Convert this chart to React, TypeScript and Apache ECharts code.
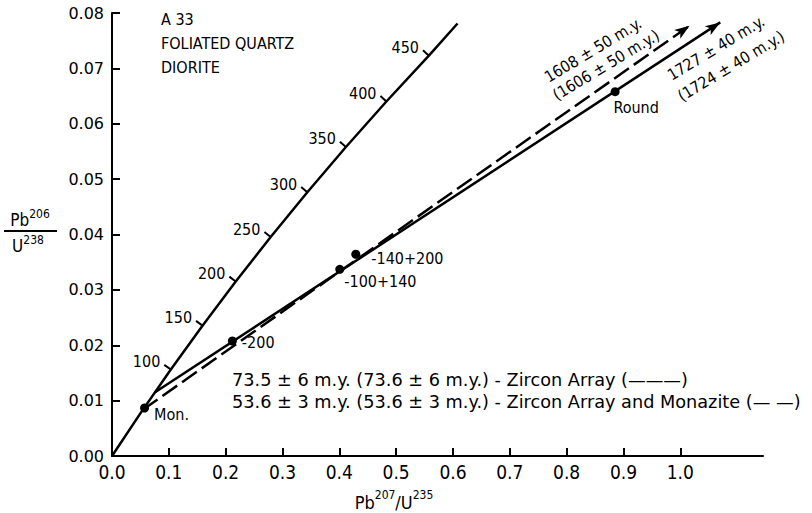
import React, { useEffect, useRef } from "react";
import * as echarts from "echarts";

// Concordia curve points (age in m.y., Pb207/U235, Pb206/U238)
const CONC_AGE = [0, 50, 100, 150, 200, 250, 300, 350, 400, 450, 485];
const CONC_X = [0, 0.0505, 0.1035, 0.1592, 0.2177, 0.2792, 0.3437, 0.4116, 0.4828, 0.5576, 0.608];
const CONC_Y = [0, 0.00779, 0.01563, 0.02354, 0.03151, 0.03954, 0.04764, 0.0558, 0.06402, 0.0723, 0.0781];
const TICK_AGES = [100, 150, 200, 250, 300, 350, 400, 450];

// Discordia lines (start at lower intercept, end at arrow tip)
const ZIRCON_X = [0.0751, 1.0703];
const ZIRCON_Y = [0.01147, 0.0783];
const MONAZ_X = [0.0542, 1.0162];
const MONAZ_Y = [0.00835, 0.0777];

// Sample points
const PT_NAMES = ["Mon.", "-200", "-100+140", "-140+200", "Round"];
const PT_X = [0.0573, 0.2118, 0.4008, 0.429, 0.8853];
const PT_Y = [0.00867, 0.02077, 0.03372, 0.03643, 0.0658];
const PT_OFFSETS = [[0, 7], [0, 2], [-5, 12], [6, 4], [21, -2]];
const PT_POS = ["right", "right", "right", "right", "bottom"];

const X_TICKS = [0, 0.1, 0.2, 0.3, 0.4, 0.5, 0.6, 0.7, 0.8, 0.9, 1.0];
const Y_TICKS = [0, 0.01, 0.02, 0.03, 0.04, 0.05, 0.06, 0.07, 0.08];

const TITLE_LINES = ["A 33", "FOLIATED QUARTZ", "DIORITE"];
const LEGEND_LINES = [
  "73.5 ± 6 m.y. (73.6 ± 6 m.y.) - Zircon Array (———)",
  "53.6 ± 3 m.y. (53.6 ± 3 m.y.) - Zircon Array and Monazite (— —)",
];
const AGE_LABELS = [
  { text: "1608 ± 50 m.y.", x: 593, y: 50 },
  { text: "(1606 ± 50 m.y.)", x: 606, y: 65 },
  { text: "1727 ± 40 m.y.", x: 716, y: 48 },
  { text: "(1724 ± 40 m.y.)", x: 731, y: 66 },
];

const FONT = "'DejaVu Sans Condensed', 'Liberation Sans Narrow', 'DejaVu Sans', sans-serif";
const WIDE = "'DejaVu Sans', 'Noto Sans', sans-serif";

export default function App() {
  const ref = useRef<HTMLDivElement>(null);
  useEffect(() => {
    const chart = echarts.init(ref.current!, undefined, { renderer: "svg" });
    const tickData = TICK_AGES.map((age) => {
      const k = CONC_AGE.indexOf(age);
      return [CONC_X[k], CONC_Y[k], age];
    });
    const option: any = {
      animation: false,
      backgroundColor: "#fff",
      grid: { left: 112, right: 49, top: 13, bottom: 57, containLabel: false },
      xAxis: {
        type: "value",
        min: 0,
        max: 1.1455,
        interval: 0.1,
        axisLine: { lineStyle: { color: "#000", width: 2 } },
        axisTick: { inside: true, length: 8, customValues: X_TICKS, lineStyle: { color: "#000", width: 2 } },
        axisLabel: {
          customValues: X_TICKS,
          formatter: (v: number) => v.toFixed(1),
          color: "#000",
          fontFamily: FONT,
          fontSize: 19,
          margin: 6,
        },
        splitLine: { show: false },
      },
      yAxis: {
        type: "value",
        min: 0,
        max: 0.08,
        interval: 0.01,
        axisLine: { show: true, lineStyle: { color: "#000", width: 2 } },
        axisTick: { show: true, inside: true, length: 8, customValues: Y_TICKS, lineStyle: { color: "#000", width: 2 } },
        axisLabel: {
          customValues: Y_TICKS,
          formatter: (v: number) => v.toFixed(2),
          color: "#000",
          fontFamily: WIDE,
          fontSize: 16,
          margin: 8,
        },
        splitLine: { show: false },
      },
      series: [
        {
          type: "line",
          name: "Concordia",
          data: CONC_X.map((x, i) => [x, CONC_Y[i]]),
          showSymbol: false,
          lineStyle: { color: "#000", width: 2.5 },
          z: 3,
        },
        {
          type: "custom",
          name: "Age ticks",
          data: tickData,
          encode: { x: 0, y: 1 },
          renderItem: (params: any, api: any) => {
            const age = api.value(2);
            const k = CONC_AGE.indexOf(age);
            const p = api.coord([CONC_X[k], CONC_Y[k]]);
            const a = api.coord([CONC_X[k - 1], CONC_Y[k - 1]]);
            const b = api.coord([CONC_X[k + 1], CONC_Y[k + 1]]);
            let tx = b[0] - a[0];
            let ty = b[1] - a[1];
            const n = Math.hypot(tx, ty);
            tx /= n;
            ty /= n;
            const ex = p[0] + ty * 8;
            const ey = p[1] - tx * 8;
            return {
              type: "group",
              children: [
                { type: "line", shape: { x1: p[0], y1: p[1], x2: ex, y2: ey }, style: { stroke: "#000", lineWidth: 2 } },
                {
                  type: "text",
                  x: ex - 4,
                  y: ey - 3,
                  style: { text: String(age), align: "right", verticalAlign: "middle", fill: "#000", font: `16px ${FONT}` },
                },
              ],
            };
          },
          z: 4,
        },
        {
          type: "line",
          name: "Zircon Array",
          data: [],
          markLine: {
            silent: true,
            symbol: ["none", "arrow"],
            symbolSize: [8, 15],
            label: { show: false },
            lineStyle: { color: "#000", width: 2.5, type: "solid", opacity: 1 },
            data: [[{ coord: [ZIRCON_X[0], ZIRCON_Y[0]] }, { coord: [ZIRCON_X[1], ZIRCON_Y[1]] }]],
          },
        },
        {
          type: "line",
          name: "Zircon Array and Monazite",
          data: [],
          markLine: {
            silent: true,
            symbol: ["none", "arrow"],
            symbolSize: [8, 15],
            label: { show: false },
            lineStyle: { color: "#000", width: 2.5, type: [18, 6], opacity: 1 },
            data: [[{ coord: [MONAZ_X[0], MONAZ_Y[0]] }, { coord: [MONAZ_X[1], MONAZ_Y[1]] }]],
          },
        },
        {
          type: "scatter",
          name: "Samples",
          symbol: "circle",
          symbolSize: 9,
          itemStyle: { color: "#000", opacity: 1 },
          data: PT_X.map((x, i) => ({
            value: [x, PT_Y[i]],
            label: {
              show: true,
              formatter: PT_NAMES[i],
              position: PT_POS[i],
              offset: PT_OFFSETS[i],
              color: "#000",
              opacity: 1,
              fontFamily: FONT,
              fontSize: 16,
            },
          })),
          z: 5,
        },
      ],
      graphic: [
        ...TITLE_LINES.map((t, i) => ({
          type: "text",
          left: 161,
          top: [11, 35, 59][i],
          style: { text: t, fill: "#000", font: `16px ${FONT}` },
        })),
        ...LEGEND_LINES.map((t, i) => ({
          type: "text",
          x: 232,
          y: [380, 402][i],
          style: { text: t, fill: "#000", font: `17.7px ${WIDE}`, verticalAlign: "middle" },
        })),
        ...AGE_LABELS.map((l) => ({
          type: "text",
          x: l.x,
          y: l.y,
          rotation: (31 * Math.PI) / 180,
          style: { text: l.text, fill: "#000", font: `16px ${FONT}`, align: "center", verticalAlign: "middle" },
        })),
        {
          type: "text",
          x: 30,
          y: 218,
          style: {
            text: "{b|Pb}{s|206}",
            align: "center",
            verticalAlign: "middle",
            rich: {
              b: { fontSize: 17, fontFamily: FONT, fill: "#000", verticalAlign: "bottom", lineHeight: 20 },
              s: { fontSize: 12, fontFamily: FONT, fill: "#000", verticalAlign: "top", lineHeight: 20 },
            },
          },
        },
        { type: "line", shape: { x1: 4, y1: 231, x2: 57, y2: 231 }, style: { stroke: "#000", lineWidth: 2 } },
        {
          type: "text",
          x: 28,
          y: 244,
          style: {
            text: "{b|U}{s|238}",
            align: "center",
            verticalAlign: "middle",
            rich: {
              b: { fontSize: 17, fontFamily: FONT, fill: "#000", verticalAlign: "bottom", lineHeight: 20 },
              s: { fontSize: 12, fontFamily: FONT, fill: "#000", verticalAlign: "top", lineHeight: 20 },
            },
          },
        },
        {
          type: "text",
          x: 394,
          y: 500,
          style: {
            text: "{b|Pb}{s|207}{b|/U}{s|235}",
            align: "center",
            verticalAlign: "middle",
            rich: {
              b: { fontSize: 18, fontFamily: FONT, fill: "#000", verticalAlign: "bottom", lineHeight: 22 },
              s: { fontSize: 12, fontFamily: FONT, fill: "#000", verticalAlign: "top", lineHeight: 22 },
            },
          },
        },
      ],
    };
    chart.setOption(option);
    return () => chart.dispose();
  }, []);
  return (
    <div
      ref={ref}
      style={{ position: "fixed", left: 0, top: 0, width: 812, height: 513, background: "#fff" }}
    />
  );
}
